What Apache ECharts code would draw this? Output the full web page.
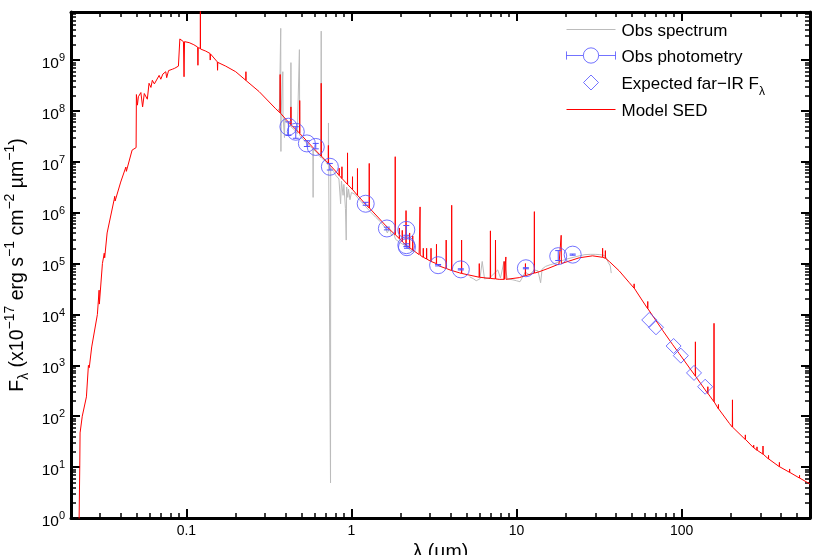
<!DOCTYPE html>
<html>
<head>
<meta charset="utf-8">
<title>SED</title>
<script src="https://cdn.jsdelivr.net/npm/echarts@6/dist/echarts.min.js"></script>
<style>
html,body{margin:0;padding:0;background:#fff;}
#chart{width:830px;height:555px;}
</style>
</head>
<body>
<div id="chart"></div>
<script>
// axis ranges
var xMin = 0.02, xMax = 600;
var yMin = 1, yMax = 8.8e9;

// model SED (wavelength in micron, flux), spikes are emission lines
var sedWave = [
	0.0222, 0.0224, 0.0226, 0.0227, 0.0234, 0.0248, 0.0255, 0.0258, 0.0267, 0.0289, 0.0296, 0.0297,
	0.0310, 0.0318, 0.0320, 0.0331, 0.0365, 0.0368, 0.0370, 0.0400, 0.0430, 0.0433, 0.0469, 0.0496,
	0.0498, 0.0505, 0.0512, 0.0518, 0.0530, 0.0543, 0.0556, 0.0568, 0.0580, 0.0594, 0.0610, 0.0622,
	0.0640, 0.0684, 0.0700, 0.0720, 0.0750, 0.0760, 0.0780, 0.0822, 0.0850, 0.0895, 0.0912, 0.0913,
	0.0960, 0.0968, 0.0975, 0.104, 0.111, 0.117, 0.1175, 0.118, 0.1214, 0.1216, 0.1218, 0.131,
	0.139, 0.1395, 0.140, 0.154, 0.1545, 0.155, 0.173, 0.199, 0.229, 0.2295, 0.230, 0.276,
	0.348, 0.369, 0.370, 0.371, 0.400, 0.429, 0.430, 0.431, 0.485, 0.486, 0.487, 0.581,
	0.655, 0.656, 0.657, 0.724, 0.725, 0.726, 0.732, 0.800, 0.842, 0.843, 0.844, 0.875,
	0.876, 0.877, 0.946, 0.947, 0.948, 0.968, 1.014, 1.015, 1.016, 1.087, 1.088, 1.089,
	1.22, 1.28, 1.282, 1.284, 1.62, 1.84, 1.842, 1.844, 1.95, 1.952, 1.954, 2.03,
	2.032, 2.034, 2.14, 2.142, 2.144, 2.25, 2.252, 2.254, 2.35, 2.352, 2.354, 2.57,
	2.60, 2.605, 2.61, 2.72, 2.725, 2.73, 2.85, 2.855, 2.86, 3.03, 3.035, 3.04,
	3.27, 3.275, 3.28, 3.40, 3.74, 3.75, 3.76, 4.04, 4.05, 4.06, 4.5, 4.64,
	4.65, 4.66, 5.94, 5.95, 5.96, 6.93, 6.95, 6.97, 7.44, 7.46, 7.48, 7.86,
	8.40, 8.42, 8.44, 8.60, 8.62, 8.64, 10.4, 11.3, 11.33, 11.36, 12.8, 12.83,
	12.86, 13.7, 15.5, 18.1, 18.6, 18.65, 18.7, 24, 28.9, 33.2, 33.25, 33.3,
	34.5, 34.55, 34.6, 36.5, 41.9, 48, 51.5, 51.6, 51.7, 53, 62.3, 62.4,
	62.5, 63.7, 76.7, 88, 96.8, 121, 121.3, 121.6, 144, 144.3, 144.6, 157,
	157.3, 157.6, 167, 167.3, 167.6, 195, 203, 203.4, 203.8, 243, 243.5, 244,
	273, 273.5, 274, 286, 286.5, 287, 311, 311.5, 312, 336, 336.5, 337,
	391, 391.5, 392, 451, 451.5, 452, 518, 518.5, 519, 600
];
var sedFlux = [
	0.3, 1, 10, 47, 100, 240, 1000, 900, 2300, 1.0e4, 3.0e4, 1.6e4,
	1.0e5, 1.6e5, 1.3e5, 4.0e5, 1.8e6, 2.1e6, 1.7e6, 4.0e6, 7.9e6, 6.5e6, 1.7e7, 1.9e7,
	2.1e8, 1.3e8, 1.9e8, 1.8e8, 2.3e8, 1.2e8, 2.2e8, 2.4e8, 1.7e8, 3.5e8, 2.9e8, 4.0e8,
	3.4e8, 5.0e8, 4.2e8, 5.3e8, 5.9e8, 4.5e8, 6.2e8, 6.6e8, 6.9e8, 7.6e8, 7.8e8, 2.6e9,
	2.3e9, 4.7e8, 2.3e9, 2.2e9, 2.0e9, 1.8e9, 7.9e8, 1.75e9, 1.7e9, 3.0e10, 1.65e9, 1.5e9,
	1.35e9, 1.0e9, 1.32e9, 9.2e8, 6.3e8, 9.0e8, 7.6e8, 5.9e8, 4.0e8, 5.9e8, 3.95e8, 2.4e8,
	1.1e8, 9.2e7, 5.2e8, 9.1e7, 6.9e7, 5.4e7, 1.2e8, 5.35e7, 3.65e7, 1.6e8, 3.6e7, 1.95e7,
	1.3e7, 3.5e8, 1.3e7, 9.4e6, 2.1e7, 9.3e6, 9.0e6, 6.6e6, 5.4e6, 7.5e6, 5.4e6, 4.7e6,
	8.0e6, 4.7e6, 3.6e6, 1.5e7, 3.6e6, 3.35e6, 2.85e6, 5.1e6, 2.85e6, 2.2e6, 7.4e6, 2.2e6,
	1.45e6, 1.24e6, 9.3e6, 1.24e6, 5.5e5, 3.7e5, 1.26e7, 3.7e5, 3.1e5, 5.0e5, 3.1e5, 2.7e5,
	4.5e5, 2.7e5, 2.3e5, 1.1e6, 2.3e5, 2.05e5, 4.0e5, 2.05e5, 1.85e5, 3.5e5, 1.85e5, 1.5e5,
	1.46e5, 1.3e6, 1.46e5, 1.33e5, 2.0e5, 1.33e5, 1.23e5, 2.0e5, 1.23e5, 1.1e5, 2.0e5, 1.1e5,
	1.0e5, 2.4e5, 1.0e5, 9.0e4, 8.0e4, 2.9e5, 8.0e4, 7.3e4, 1.4e6, 7.3e4, 6.6e4, 6.4e4,
	2.9e5, 6.4e4, 5.4e4, 1.0e5, 5.4e4, 5.1e4, 4.4e5, 5.1e4, 5.0e4, 2.9e5, 5.0e4, 4.9e4,
	4.9e4, 1.1e5, 4.9e4, 4.9e4, 1.35e5, 4.9e4, 5.3e4, 5.8e4, 1.0e5, 5.8e4, 6.5e4, 1.05e6,
	6.5e4, 6.9e4, 8.0e4, 9.8e4, 1.0e5, 3.6e5, 1.0e5, 1.3e5, 1.42e5, 1.33e5, 2.0e5, 1.33e5,
	1.27e5, 1.8e5, 1.27e5, 1.1e5, 7.2e4, 4.3e4, 3.3e4, 4.0e4, 3.3e4, 2.9e4, 1.3e4, 1.8e4,
	1.3e4, 1.2e4, 4.9e3, 2.6e3, 1.7e3, 6.2e2, 2.9e3, 6.1e2, 2.8e2, 3.8e2, 2.8e2, 1.93e2,
	6.7e3, 1.92e2, 1.4e2, 1.7e2, 1.4e2, 72, 61, 2.1e2, 61, 35, 43, 35,
	24, 27, 24, 21.5, 25, 21.5, 18, 26, 18, 14.5, 17, 14.5,
	10.2, 12.4, 10.2, 7.9, 9.2, 7.9, 6.1, 6.9, 6.1, 4.66
];

// observed spectrum (null = gap between instruments)
var specWave = [
	0.360, 0.366, 0.372, 0.373, 0.374, 0.375, 0.380, 0.384, 0.385, 0.392, 0.393, 0.395,
	0.400, 0.428, 0.430, 0.432, 0.450, 0.470, 0.482, 0.484, 0.486, 0.500, 0.520, 0.545,
	0.584, 0.586, 0.588, 0.620, 0.654, 0.656, 0.658, 0.700, 0.725, 0.726, 0.728, 0.745,
	0.747, 0.749, 0.780, 0.800, 0.820, 0.840, 0.860, 0.870, 0.890, 0.900, 0.920, 0.930,
	0.935, 0.950, 0.960, 0.980, 1.00, 1.05, 1.10, 1.20, 1.30, 1.40, 1.50, 1.60,
	1.65, 1.70, 1.75, 1.80, 1.85, 1.90, 2.00, 2.10, 2.20, 2.30, 2.40, 3.5,
	5.2, 5.5, 5.7, 6.0, 6.2, 6.4, 6.9, 7.7, 8.0, 8.4, 8.8, 9.5,
	10.0, 10.5, 11.3, 12.0, 12.8, 13.5, 14.0, 14.3, 15, 16, 17, 18,
	19, 20, 22, 24, 26, 28, 30, 32, 34, 35, 36, 37, 37.5
];
var specFlux = [
	1.1e8, 1.0e8, 9.5e7, 4.2e9, 1.6e7, 9.0e7, 8.5e7, 5.9e8, 8.0e7, 7.5e7, 3.0e7, 7.2e7,
	6.3e7, 5.0e7, 8.9e8, 4.8e7, 4.3e7, 3.6e7, 3.4e7, 1.6e9, 3.3e7, 3.0e7, 2.6e7, 2.2e7,
	1.8e7, 2.0e6, 1.75e7, 1.5e7, 1.2e7, 3.7e9, 1.2e7, 1.0e7, 8.6e6, 5.8e7, 8.5e6, 7.8e6,
	4.9, 7.6e6, 6.5e6, 5.5e6, 5.6e6, 4.6e6, 1.5e6, 4.2e6, 2.2e6, 3.6e6, 1.2e6, 2.9e5,
	3.2e6, 2.0e6, 2.9e6, 1.8e6, 2.5e6, 2.3e6, 1.9e6, 1.4e6, 1.05e6, 8.2e5, 6.6e5, 5.1e5,
	4.0e5, 5.0e5, 3.5e5, 4.0e5, 3.0e5, 3.2e5, 2.5e5, 2.3e5, 2.0e5, 1.8e5, 1.7e5, null,
	5.5e4, 5.0e4, 4.6e4, 5.0e4, 1.1e5, 5.0e4, 5.3e4, 7.5e4, 5.2e4, 1.1e5, 5.0e4, 4.8e4,
	4.6e4, 4.4e4, 6.8e4, 6.0e4, 7.5e4, 7.2e4, 4.2e4, 7.8e4, 8.8e4, 9.5e4, 1.0e5, 1.08e5,
	1.15e5, 1.22e5, 1.32e5, 1.42e5, 1.5e5, 1.52e5, 1.52e5, 1.5e5, 1.45e5, 1.3e5, 1.05e5, 9.0e4, 6.5e4
];

// observed photometry with error range
var photWave = [0.415, 0.46, 0.537, 0.608, 0.74, 1.22, 1.64, 2.15, 2.15, 2.17, 3.35, 4.6, 11.4, 17.9, 21.9];
var photFlux = [4.9e7, 3.9e7, 2.3e7, 1.96e7, 8.0e6, 1.5e6, 4.9e5, 4.6e5, 2.3e5, 2.1e5, 9.3e4, 7.7e4, 8.1e4, 1.4e5, 1.5e5];
var photLow  = [3.3e7, 2.9e7, 2.0e7, 1.8e7, 6.9e6, 1.4e6, 4.6e5, 3.6e5, 2.15e5, 2.0e5, 9.0e4, 7.5e4, 7.9e4, 1.15e5, 1.46e5];
var photHigh = [6.1e7, 4.9e7, 2.6e7, 2.3e7, 9.3e6, 1.6e6, 5.2e5, 5.6e5, 2.45e5, 2.2e5, 9.6e4, 7.9e4, 8.3e4, 1.8e5, 1.54e5];

// expected far-IR points
var firWave = [63.7, 70, 89.5, 99, 119, 139];
var firFlux = [7.8e3, 5.6e3, 2.4e3, 1.55e3, 7.1e2, 3.8e2];

var FONT = 'Liberation Sans, Arial, Helvetica, sans-serif';
var BLUE = '#5050ff';
var RED = '#ff0000';
var GRAY = '#bcbcbc';
var FIR_NAME = 'Expected far\u2212IR F\u03bb';
var LINE_ICON = 'path://M0,0L0,0M0,18L0,18M0,9L49,9';

function zip(a, b) {
	var out = [];
	for (var i = 0; i < a.length; i++) out.push([a[i], b[i] === null ? '-' : b[i]]);
	return out;
}
function isPow10(val) {
	var p = Math.round(Math.log10(val));
	return Math.abs(val / Math.pow(10, p) - 1) < 1e-6 ? p : null;
}

var chart = echarts.init(document.getElementById('chart'));

var axisLineStyle = { show: true, onZero: false, lineStyle: { color: '#000', width: 3 } };
var axisTickStyle = { show: true, inside: true, length: 9, lineStyle: { color: '#000', width: 2 } };
// 2..9 in every decade
var minorTickStyle = { show: true, splitNumber: 9, length: 5, lineStyle: { color: '#000', width: 1.5 } };

chart.setOption({
	animation: false,
	backgroundColor: '#fff',
	textStyle: { fontFamily: FONT },
	grid: { left: 71, right: 20, top: 12, bottom: 37, outerBoundsMode: 'none', containLabel: false },
	legend: {
		orient: 'vertical',
		left: 561,
		top: 15,
		itemWidth: 49,
		itemHeight: 18,
		itemGap: 2,
		selectedMode: false,
		textStyle: {
			color: '#000',
			fontFamily: FONT,
			rich: {
				n: { fontSize: 17, lineHeight: 17, padding: [2, 0, 5, 1], verticalAlign: 'top', fontFamily: FONT, color: '#000' },
				sub: { fontSize: 12, lineHeight: 12, padding: [12, 0, 0, 0], verticalAlign: 'top', fontFamily: FONT, color: '#000' }
			}
		},
		formatter: function (name) {
			if (name === FIR_NAME) return '{n|Expected far\u2212IR F}{sub|\u03bb}';
			return '{n|' + name + '}';
		},
		data: [
			{
				name: 'Obs spectrum',
				icon: LINE_ICON,
				itemStyle: { color: 'rgba(0,0,0,0)', borderColor: GRAY, borderWidth: 1 }
			},
			{
				name: 'Obs photometry',
				icon: 'path://M0.5,5L0.5,13M0.5,9L17,9M32,9L48.5,9M48.5,5L48.5,13M32,9A7.5,7.5,0,1,1,17,9A7.5,7.5,0,1,1,32,9',
				itemStyle: { color: 'rgba(0,0,0,0)', borderColor: BLUE, borderWidth: 1 }
			},
			{
				name: FIR_NAME,
				icon: 'path://M9,0L9,0M9,18L9,18M9,1.5L16.5,9L9,16.5L1.5,9Z',
				itemStyle: { color: 'rgba(0,0,0,0)', borderColor: BLUE, borderWidth: 1 }
			},
			{
				name: 'Model SED',
				icon: LINE_ICON,
				itemStyle: { color: 'rgba(0,0,0,0)', borderColor: RED, borderWidth: 1 }
			}
		]
	},
	xAxis: [{
		type: 'log',
		logBase: 10,
		min: xMin,
		max: xMax,
		position: 'bottom',
		splitNumber: 5,
		splitLine: { show: false },
		axisLine: axisLineStyle,
		axisTick: axisTickStyle,
		minorTick: minorTickStyle,
		axisLabel: {
			margin: 6,
			fontSize: 14,
			color: '#000',
			fontFamily: FONT,
			showMinLabel: false,
			showMaxLabel: false,
			formatter: function (val) {
				var p = isPow10(val);
				if (p === null) return '';
				return String(Number(Math.pow(10, p).toPrecision(6)));
			}
		},
		name: '\u03bb (\u00b5m)',
		nameLocation: 'middle',
		nameGap: 18,
		nameTextStyle: { fontSize: 19.5, color: '#000', fontFamily: FONT }
	}, {
		type: 'log',
		logBase: 10,
		min: xMin,
		max: xMax,
		position: 'top',
		splitNumber: 5,
		splitLine: { show: false },
		axisLine: axisLineStyle,
		axisTick: axisTickStyle,
		minorTick: minorTickStyle,
		axisLabel: { show: false }
	}],
	yAxis: [{
		type: 'log',
		logBase: 10,
		min: yMin,
		max: yMax,
		position: 'left',
		splitNumber: 10,
		splitLine: { show: false },
		axisLine: axisLineStyle,
		axisTick: axisTickStyle,
		minorTick: minorTickStyle,
		axisLabel: {
			margin: 6,
			color: '#000',
			fontFamily: FONT,
			showMaxLabel: false,
			formatter: function (val) {
				var p = isPow10(val);
				if (p === null) return '';
				return '{b|10}{s|' + p + '}';
			},
			rich: {
				b: { fontSize: 15.5, lineHeight: 15, padding: [3, 0, 3, 0], verticalAlign: 'top', fontFamily: FONT, color: '#000' },
				s: { fontSize: 11, lineHeight: 11, verticalAlign: 'top', fontFamily: FONT, color: '#000' }
			}
		},
		name: '{n|F}{sub|\u03bb}{n| (x10}{sup|\u221217}{n| erg s}{sup|\u22121}{n| cm}{sup|\u22122}{n| \u00b5m}{sup|\u22121}{n|)}',
		nameLocation: 'middle',
		nameRotate: 90,
		nameGap: 29,
		nameTextStyle: {
			color: '#000',
			fontFamily: FONT,
			rich: {
				n: { fontSize: 19.5, lineHeight: 20, padding: [5, 0, 0, 0], verticalAlign: 'top', fontFamily: FONT, color: '#000' },
				sup: { fontSize: 14, lineHeight: 14, verticalAlign: 'top', fontFamily: FONT, color: '#000' },
				sub: { fontSize: 14, lineHeight: 14, padding: [14, 0, 0, 0], verticalAlign: 'top', fontFamily: FONT, color: '#000' }
			}
		}
	}, {
		type: 'log',
		logBase: 10,
		min: yMin,
		max: yMax,
		position: 'right',
		splitNumber: 10,
		splitLine: { show: false },
		axisLine: axisLineStyle,
		axisTick: axisTickStyle,
		minorTick: minorTickStyle,
		axisLabel: { show: false }
	}],
	series: [{
		name: 'Obs spectrum',
		type: 'line',
		symbol: 'none',
		connectNulls: false,
		data: zip(specWave, specFlux),
		lineStyle: { color: GRAY, width: 1 },
		itemStyle: { color: GRAY },
		z: 2
	}, {
		name: 'Model SED',
		type: 'line',
		symbol: 'none',
		data: zip(sedWave, sedFlux),
		lineStyle: { color: RED, width: 1 },
		itemStyle: { color: RED },
		z: 3
	}, {
		name: 'Obs photometry',
		type: 'scatter',
		symbol: 'circle',
		symbolSize: 17,
		data: zip(photWave, photFlux),
		itemStyle: { color: 'rgba(0,0,0,0)', borderColor: BLUE, borderWidth: 1 },
		z: 5
	}, {
		type: 'custom',
		silent: true,
		data: photWave.map(function (w, i) { return [w, photLow[i], photHigh[i]]; }),
		encode: { x: 0, y: [1, 2] },
		renderItem: function (params, api) {
			var lo = api.coord([api.value(0), api.value(1)]);
			var hi = api.coord([api.value(0), api.value(2)]);
			var st = { stroke: BLUE, lineWidth: 1 };
			return { type: 'group', children: [
				{ type: 'line', shape: { x1: lo[0], y1: lo[1], x2: hi[0], y2: hi[1] }, style: st },
				{ type: 'line', shape: { x1: lo[0] - 3, y1: lo[1], x2: lo[0] + 3, y2: lo[1] }, style: st },
				{ type: 'line', shape: { x1: hi[0] - 3, y1: hi[1], x2: hi[0] + 3, y2: hi[1] }, style: st }
			] };
		},
		z: 5
	}, {
		name: FIR_NAME,
		type: 'scatter',
		symbol: 'diamond',
		symbolSize: 15,
		data: zip(firWave, firFlux),
		itemStyle: { color: 'rgba(0,0,0,0)', borderColor: BLUE, borderWidth: 1 },
		z: 5
	}]
});

window.addEventListener('resize', function () {
	chart.resize();
});
</script>
</body>
</html>
